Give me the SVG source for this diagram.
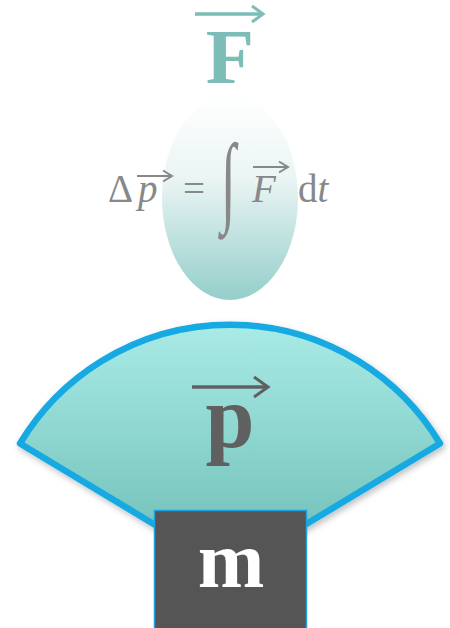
<svg xmlns="http://www.w3.org/2000/svg" width="450" height="628" viewBox="0 0 450 628">
<defs>
<linearGradient id="gEll" x1="0" y1="0" x2="0" y2="1">
<stop offset="0" stop-color="#ffffff"/>
<stop offset="0.4" stop-color="#eaf5f4"/>
<stop offset="1" stop-color="#94ceca"/>
</linearGradient>
<linearGradient id="gFan" x1="0" y1="0" x2="0" y2="1">
<stop offset="0" stop-color="#a9ebe6"/>
<stop offset="1" stop-color="#6cbbb4"/>
</linearGradient>
<filter id="sh" x="-10%" y="-10%" width="120%" height="130%">
<feDropShadow dx="2" dy="3" stdDeviation="3" flood-color="#000" flood-opacity="0.25"/>
</filter>
</defs>
<style>
.serif{font-family:"Liberation Serif","Times New Roman",serif}
.vec{fill:none;stroke-linecap:butt;stroke-linejoin:miter}
.eq{font-size:39px;fill:#888888}
</style>
<g id="force">
<path class="vec" d="M195 14 H262" stroke="#7dbdb7" stroke-width="3.5"/>
<path class="vec" d="M252 6 L263 14 L252 22" stroke="#7dbdb7" stroke-width="3"/>
<text class="serif" x="230" y="83" text-anchor="middle" font-size="79" font-weight="bold" fill="#7dbdb7">F</text>
</g>
<g id="impulse">
<ellipse cx="230" cy="198" rx="68" ry="102" fill="url(#gEll)"/>
<text class="serif eq" x="108" y="202">Δ</text>
<text class="serif eq" x="138" y="202" font-style="italic">p</text>
<path class="vec" d="M137 176 H171" stroke="#888" stroke-width="2.2"/>
<path class="vec" d="M163 170.5 L172 176 L163 181.5" stroke="#888" stroke-width="2"/>
<text class="serif eq" x="183" y="202" font-size="42">=</text>
<text class="serif" x="0" y="0" font-size="54" fill="#888" transform="translate(221 213) scale(1 1.85)">∫</text>
<text class="serif eq" x="252" y="202" font-style="italic">F</text>
<path class="vec" d="M253 167 H287" stroke="#888" stroke-width="2.2"/>
<path class="vec" d="M279 161.5 L288 167 L279 172.5" stroke="#888" stroke-width="2"/>
<text class="serif eq" x="298" y="202">d<tspan font-style="italic">t</tspan></text>
</g>
<g id="momentum">
<path d="M20 443.5 A245 245 0 0 1 440 443.5 L230 570 Z" fill="url(#gFan)" stroke="#19a9e2" stroke-width="6.5" stroke-linejoin="round" filter="url(#sh)"/>
<path class="vec" d="M192 387 H266" stroke="#606060" stroke-width="3.5"/>
<path class="vec" d="M254 377 L268 387 L254 397" stroke="#606060" stroke-width="3"/>
<text class="serif" x="230" y="447" text-anchor="middle" font-size="88" font-weight="bold" fill="#606060">p</text>
</g>
<g id="mass">
<rect x="154.5" y="510.5" width="152" height="120" fill="#555555" stroke="#1aa3e0" stroke-width="1.5"/>
<text class="serif" x="231" y="587" text-anchor="middle" font-size="80" font-weight="bold" fill="#ffffff">m</text>
</g>
</svg>
